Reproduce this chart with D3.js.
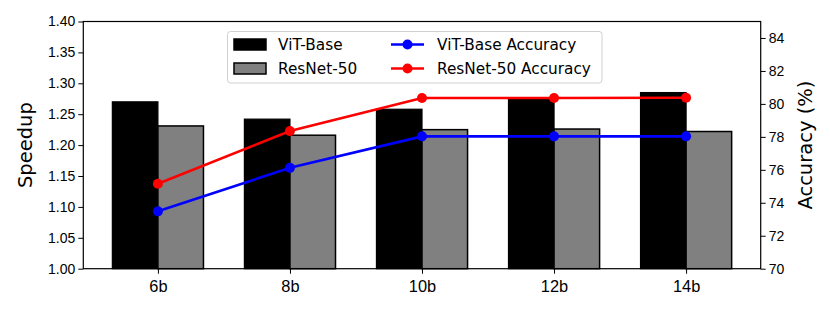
<!DOCTYPE html>
<html lang="en">
  <head>
    <meta charset="UTF-8" />
    <title>Speedup and accuracy</title>
    <script src="https://cdnjs.cloudflare.com/ajax/libs/d3/7.8.5/d3.min.js"></script>
    <style>
      body { margin: 0; background: #fff; }
      svg { font-family: "DejaVu Sans", sans-serif; }
    </style>
  </head>
  <body>
    <div id="chart"></div>

    <script type="text/javascript">
      var categories = ["6b", "8b", "10b", "12b", "14b"];
      var vitSpeedup = [1.27, 1.242, 1.258, 1.275, 1.285];
      var resnetSpeedup = [1.231, 1.216, 1.225, 1.226, 1.222];
      var vitAccuracy = [73.48, 76.12, 78.03, 78.03, 78.03];
      var resnetAccuracy = [75.15, 78.35, 80.36, 80.36, 80.37];
      var speedupTicks = [1.0, 1.05, 1.1, 1.15, 1.2, 1.25, 1.3, 1.35, 1.4];
      var accuracyTicks = [70, 72, 74, 76, 78, 80, 82, 84];

      var W = 830, H = 312;
      // plot box (window.top is reserved, so prefixed names)
      var pLeft = 83.3, pRight = 760.7, pTop = 21.5, pBottom = 268.7;
      var barW = 0.345;

      var svg = d3.select("#chart").append("svg")
        .attr("width", W).attr("height", H);

      var x = d3.scaleLinear().domain([-0.565, 4.565]).range([pLeft, pRight]);
      var y = d3.scaleLinear().domain([1.0, 1.4]).range([pBottom, pTop]);
      var y2 = d3.scaleLinear().domain([70, 85]).range([pBottom, pTop]);

      /* bars */
      var g = svg.append("g");
      g.selectAll("rect.vit").data(vitSpeedup).enter().append("rect")
        .attr("class", "vit")
        .attr("x", function (d, i) { return x(i - barW); })
        .attr("width", x(barW) - x(0))
        .attr("y", function (d) { return y(d); })
        .attr("height", function (d) { return pBottom - y(d); })
        .style("fill", "#000").style("stroke", "#000").style("stroke-width", 1.2);

      g.selectAll("rect.res").data(resnetSpeedup).enter().append("rect")
        .attr("class", "res")
        .attr("x", function (d, i) { return x(i); })
        .attr("width", x(barW) - x(0))
        .attr("y", function (d) { return y(d); })
        .attr("height", function (d) { return pBottom - y(d); })
        .style("fill", "#808080").style("stroke", "#000").style("stroke-width", 1.5);

      /* accuracy lines */
      var line = d3.line()
        .x(function (d, i) { return x(i); })
        .y(function (d) { return y2(d); });

      [[vitAccuracy, "#0000ff"], [resnetAccuracy, "#ff0000"]].forEach(function (s) {
        svg.append("path").datum(s[0])
          .attr("d", line)
          .style("fill", "none").style("stroke", s[1]).style("stroke-width", 2.6);
        svg.append("g").selectAll("circle").data(s[0]).enter().append("circle")
          .attr("cx", function (d, i) { return x(i); })
          .attr("cy", function (d) { return y2(d); })
          .attr("r", 5)
          .style("fill", s[1]);
      });

      /* axes */
      var leftAxis = svg.append("g").attr("transform", "translate(" + pLeft + ",0)")
        .call(d3.axisLeft(y).tickValues(speedupTicks).tickFormat(d3.format(".2f"))
          .tickSizeOuter(0).tickSize(5).tickPadding(3));
      leftAxis.selectAll("text").style("font-size", "14px").style("fill", "#000");

      var rightAxis = svg.append("g").attr("transform", "translate(" + pRight + ",0)")
        .call(d3.axisRight(y2).tickValues(accuracyTicks)
          .tickSizeOuter(0).tickSize(5).tickPadding(3));
      rightAxis.selectAll("text").style("font-size", "14px").style("fill", "#000");

      var bottomAxis = svg.append("g").attr("transform", "translate(0," + pBottom + ")")
        .call(d3.axisBottom(x).tickValues(d3.range(categories.length))
          .tickFormat(function (i) { return categories[i]; })
          .tickSizeOuter(0).tickSize(5).tickPadding(7));
      bottomAxis.selectAll("text").style("font-size", "16.4px").style("fill", "#000");

      svg.selectAll(".domain").remove();
      svg.selectAll(".tick line").style("stroke", "#000").style("stroke-width", 1);

      /* frame */
      svg.append("rect")
        .attr("x", pLeft).attr("y", pTop)
        .attr("width", pRight - pLeft).attr("height", pBottom - pTop)
        .style("fill", "none").style("stroke", "#000").style("stroke-width", 1.2);

      /* axis titles */
      svg.append("text")
        .attr("transform", "translate(32," + (pTop + pBottom) / 2 + ") rotate(-90)")
        .attr("text-anchor", "middle")
        .style("font-size", "19.5px")
        .text("Speedup");
      svg.append("text")
        .attr("transform", "translate(812," + (pTop + pBottom) / 2 + ") rotate(-90)")
        .attr("text-anchor", "middle")
        .style("font-size", "19.5px")
        .text("Accuracy (%)");

      /* legend */
      var lg = svg.append("g");
      lg.append("rect")
        .attr("x", 227.5).attr("y", 31.5).attr("width", 374.5).attr("height", 51.5)
        .attr("rx", 3)
        .style("fill", "#fff").style("fill-opacity", 0.8)
        .style("stroke", "#d0d0d0").style("stroke-width", 1);

      var barItems = [["ViT-Base", "#000"], ["ResNet-50", "#808080"]];
      barItems.forEach(function (b, k) {
        var cy = 44.5 + k * 24;
        lg.append("rect")
          .attr("x", 234).attr("y", cy - 5.5).attr("width", 32).attr("height", 11)
          .style("fill", b[1]).style("stroke", "#000").style("stroke-width", 1.5);
        lg.append("text").attr("x", 278).attr("y", cy + 5.5)
          .style("font-size", "15.3px").text(b[0]);
      });

      var lineItems = [["ViT-Base Accuracy", "#0000ff"], ["ResNet-50 Accuracy", "#ff0000"]];
      lineItems.forEach(function (l, k) {
        var cy = 44.5 + k * 24;
        lg.append("line")
          .attr("x1", 391).attr("x2", 424).attr("y1", cy).attr("y2", cy)
          .style("stroke", l[1]).style("stroke-width", 2.6);
        lg.append("circle").attr("cx", 407.5).attr("cy", cy).attr("r", 5)
          .style("fill", l[1]);
        lg.append("text").attr("x", 437).attr("y", cy + 5.5)
          .style("font-size", "15.3px").text(l[0]);
      });
    </script>
  </body>
</html>
